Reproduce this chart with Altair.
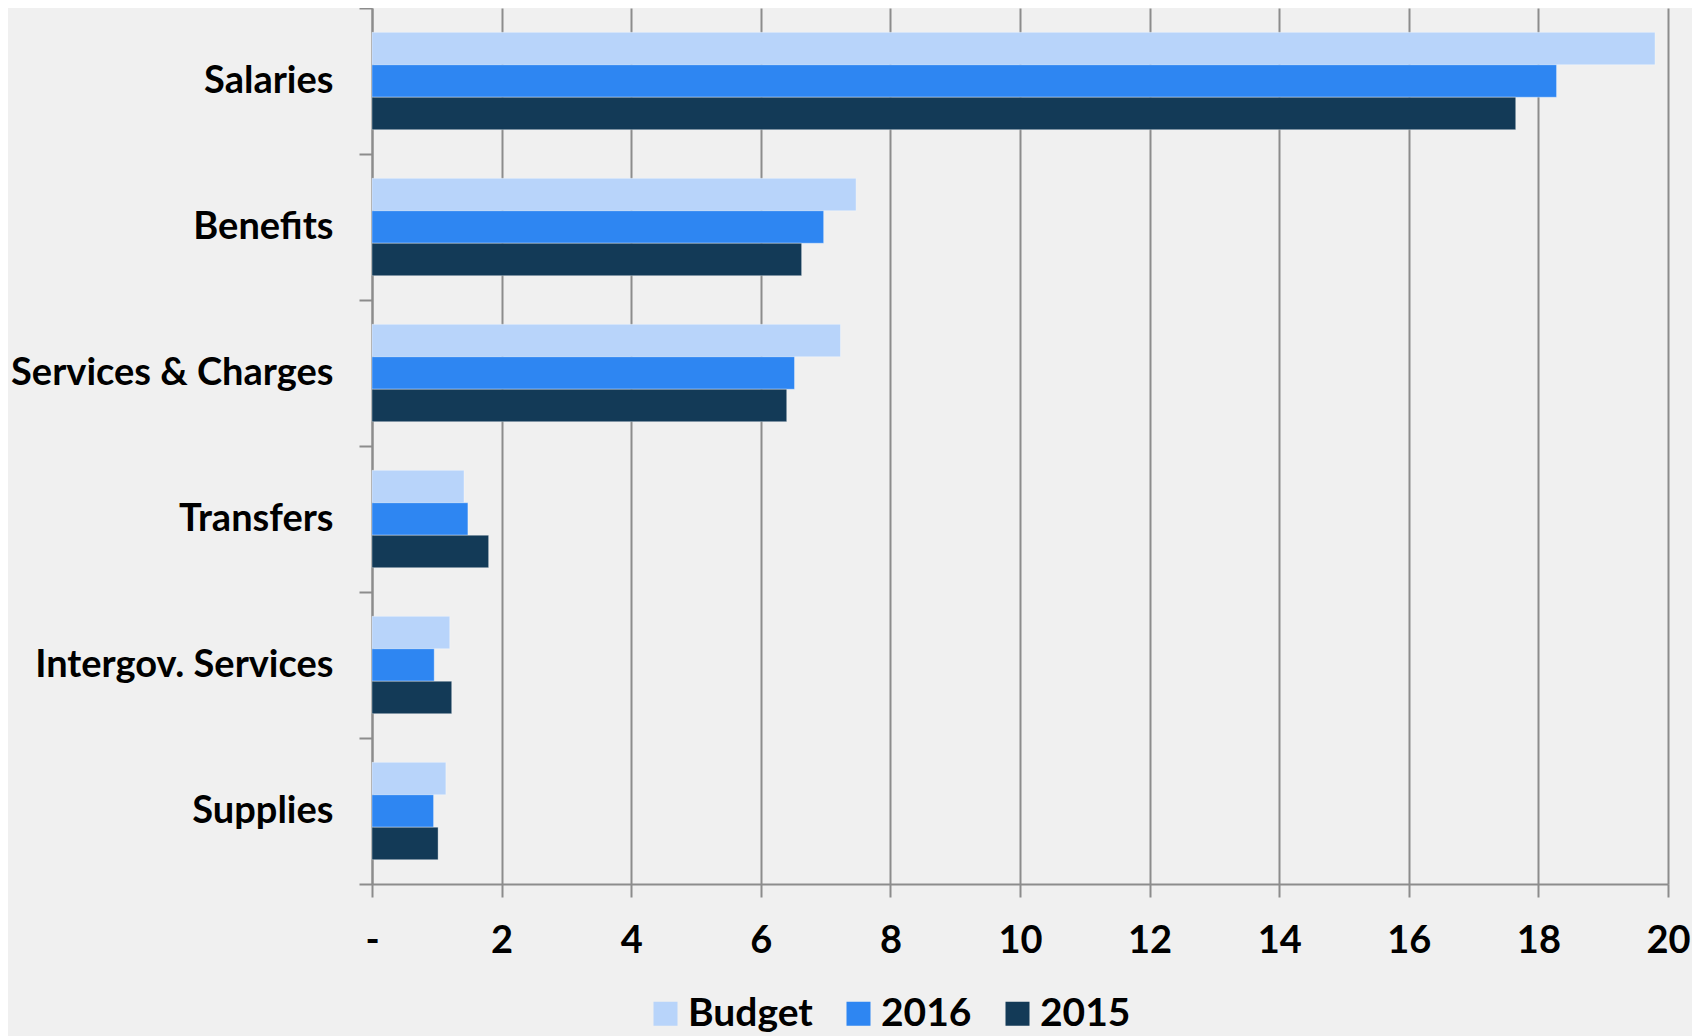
import altair as alt
import pandas as pd

categories = ["Salaries", "Benefits", "Services & Charges", "Transfers", "Intergov. Services", "Supplies"]
series = ["Budget", "2016", "2015"]
budget = [19.80, 7.47, 7.23, 1.42, 1.20, 1.14]
y2016 = [18.28, 6.97, 6.52, 1.48, 0.96, 0.95]
y2015 = [17.65, 6.63, 6.40, 1.80, 1.23, 1.02]
colors = ["#B8D4FA", "#2E86F2", "#133A57"]
x_ticks = [0, 2, 4, 6, 8, 10, 12, 14, 16, 18, 20]

rows = []
for s, vals in zip(series, [budget, y2016, y2015]):
    for c, v in zip(categories, vals):
        rows.append({"Category": c, "Series": s, "Value": v})
df = pd.DataFrame(rows)

FONT = "Lato"

chart = alt.Chart(df).mark_bar(stroke="#ffffff", strokeOpacity=0.35, strokeWidth=1).encode(
    y=alt.Y("Category:N", sort=categories,
            scale=alt.Scale(paddingInner=0, paddingOuter=0),
            axis=alt.Axis(title=None, tickBand="extent", grid=False,
                          labelFont=FONT, labelFontSize=38, labelFontWeight="bold",
                          labelColor="#000000", labelPadding=26, labelLimit=0,
                          tickSize=13, tickColor="#8C8C8C", tickWidth=2,
                          domainColor="#8C8C8C", domainWidth=2)),
    yOffset=alt.YOffset("Series:N", sort=series,
                        scale=alt.Scale(paddingInner=0, paddingOuter=0.75)),
    x=alt.X("Value:Q", scale=alt.Scale(domain=[0, 20], nice=False),
            axis=alt.Axis(title=None, values=x_ticks,
                          labelExpr="datum.value == 0 ? '-' : datum.label",
                          labelFlush=False, labelOverlap=False,
                          labelFont=FONT, labelFontSize=38, labelFontWeight="bold",
                          labelColor="#000000", labelPadding=25, tickSize=13,
                          tickColor="#8C8C8C", tickWidth=2, domainColor="#8C8C8C",
                          domainWidth=2, grid=True, gridColor="#8C8C8C",
                          gridWidth=2)),
    color=alt.Color("Series:N", sort=series,
                    scale=alt.Scale(domain=series, range=colors),
                    legend=alt.Legend(title=None, orient="none", direction="horizontal",
                                      legendX=274, legendY=986, padding=0,
                                      symbolType="square", symbolSize=576,
                                      symbolStrokeWidth=0, symbolOpacity=1,
                                      labelFont=FONT, labelFontSize=39,
                                      labelFontWeight="bold", labelColor="#000000",
                                      labelOffset=3, columnPadding=26)),
).properties(
    width=1296,
    height=876,
    autosize=alt.AutoSizeParams(type="none"),
    padding={"left": 364, "top": 0, "right": 24, "bottom": 152},
).configure(
    background="#F0F0F0",
).configure_view(
    stroke=None,
)

chart.save("out.html", embed_options={"renderer": "svg", "actions": False})
